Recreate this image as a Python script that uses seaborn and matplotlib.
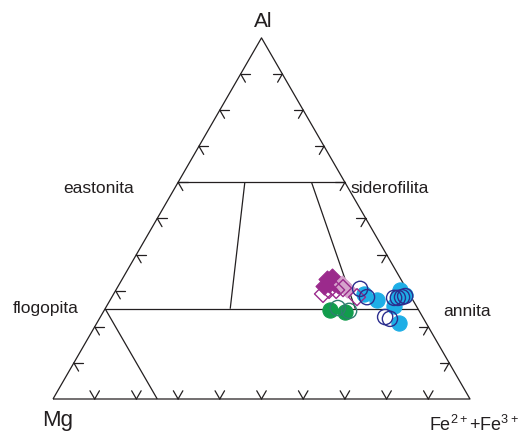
import numpy as np
import pandas as pd
import matplotlib
matplotlib.use("Agg")
import matplotlib.pyplot as plt
import seaborn as sns

sns.set_theme(style="white")
plt.rcParams["font.family"] = ["Liberation Sans", "DejaVu Sans"]
plt.rcParams["mathtext.fontset"] = "custom"
plt.rcParams["mathtext.rm"] = "Liberation Sans"
plt.rcParams["mathtext.it"] = "Liberation Sans"

# Biotite compositions (mol %): Al, Fe(2+ + 3+), Mg
purple_fill_al = [33.2, 33.8, 32.1, 31.6, 31.8, 31.3]
purple_fill_fe = [49.1, 50.0, 51.4, 52.5, 50.3, 49.4]

purple_open_al = [29.1, 30.2, 30.2, 30.7, 28.2]
purple_open_fe = [50.2, 51.1, 52.8, 54.2, 58.8]

pink_fill_al = [31.8, 30.5]
pink_fill_fe = [53.4, 55.3]

green_fill_al = [24.6, 24.1]
green_fill_fe = [54.1, 58.0]

green_open_al = [25.2, 24.4]
green_open_fe = [55.7, 58.8]

blue_fill_al = [29.1, 27.4, 30.2, 28.8, 25.8, 21.0, 28.5]
blue_fill_fe = [60.1, 64.0, 68.1, 70.0, 68.9, 72.5, 68.5]

navy_open_al = [30.5, 28.2, 28.0, 28.0, 28.2, 28.5, 22.7, 22.2]
navy_open_fe = [58.4, 61.2, 67.8, 68.7, 69.6, 70.2, 68.3, 69.7]

# Field boundaries of the biotite classification
al_upper = 0.60        # eastonita - siderofilita
al_lower = 0.25        # flogopita - annita
fe_ratios = [0.40, 0.80]  # Fe/(Fe+Mg) dividers between the two Al lines
mg_line = 0.75         # divider near the Mg corner

H = np.sqrt(3) / 2


def project(al, fe):
    al = np.asarray(al, dtype=float)
    fe = np.asarray(fe, dtype=float)
    return fe + al / 2, al * H


def group_frame(name, al, fe):
    x, y = project(np.array(al) / 100, np.array(fe) / 100)
    return pd.DataFrame({"grupo": name, "x": x, "y": y})


fig = plt.figure(figsize=(5.18, 4.37), dpi=100)
ax = fig.add_axes([0, 0, 1, 1])
ax.set_xlim(-53 / 417, 465 / 417)
ax.set_ylim(-38 / 417, 399 / 417)
ax.set_aspect("equal")
ax.axis("off")

line_kw = dict(color="#231f20", lw=0.9, solid_capstyle="butt", zorder=1)

# Outer triangle
tx, ty = project([0, 0, 1, 0], [0, 1, 0, 0])
ax.plot(tx, ty, **line_kw)

# Horizontal Al lines
for a in (al_upper, al_lower):
    lx, ly = project([a, a], [0, 1 - a])
    ax.plot(lx, ly, **line_kw)

# Fe/(Fe+Mg) dividers
for r in fe_ratios:
    lx, ly = project([al_upper, al_lower],
                     [r * (1 - al_upper), r * (1 - al_lower)])
    ax.plot(lx, ly, **line_kw)

# Constant-Mg divider
lx, ly = project([1 - mg_line, 0], [0, 1 - mg_line])
ax.plot(lx, ly, **line_kw)

# Chevron ticks every 10 %
L = 9.5 / 417
tick_kw = dict(color="#231f20", lw=0.9, zorder=1)
for i in range(1, 10):
    t = i / 10
    # bottom edge (Mg - Fe)
    px, py = project(0, t)
    for dx in (-0.5, 0.5):
        ax.plot([px, px + dx * L], [py, py + H * L], **tick_kw)
    # left edge (Mg - Al)
    px, py = project(t, 0)
    ax.plot([px, px + L], [py, py], **tick_kw)
    ax.plot([px, px + 0.5 * L], [py, py - H * L], **tick_kw)
    # right edge (Al - Fe)
    px, py = project(t, 1 - t)
    ax.plot([px, px - L], [py, py], **tick_kw)
    ax.plot([px, px - 0.5 * L], [py, py - H * L], **tick_kw)

# Sample points
s_circ = 120
s_diam = 75
sns.scatterplot(data=group_frame("pf", purple_fill_al, purple_fill_fe), x="x", y="y",
                marker="D", s=s_diam, color="#9b2a8c", edgecolor="#9b2a8c",
                linewidth=0.8, ax=ax, zorder=3, legend=False)
sns.scatterplot(data=group_frame("pk", pink_fill_al, pink_fill_fe), x="x", y="y",
                marker="D", s=s_diam, color="#d6a3cc", edgecolor="#d6a3cc",
                linewidth=0.8, ax=ax, zorder=3, legend=False)
sns.scatterplot(data=group_frame("po", purple_open_al, purple_open_fe), x="x", y="y",
                marker="D", s=s_diam, facecolor="none", edgecolor="#9b2a8c",
                linewidth=1.0, ax=ax, zorder=4, legend=False)
sns.scatterplot(data=group_frame("gf", green_fill_al, green_fill_fe), x="x", y="y",
                marker="o", s=s_circ, color="#119c4c", edgecolor="#119c4c",
                linewidth=0.8, ax=ax, zorder=3, legend=False)
sns.scatterplot(data=group_frame("go", green_open_al, green_open_fe), x="x", y="y",
                marker="o", s=s_circ, facecolor="none", edgecolor="#2f7d70",
                linewidth=1.0, ax=ax, zorder=4, legend=False)
sns.scatterplot(data=group_frame("bf", blue_fill_al, blue_fill_fe), x="x", y="y",
                marker="o", s=s_circ, color="#1eaee6", edgecolor="#1eaee6",
                linewidth=0.8, ax=ax, zorder=3, legend=False)
sns.scatterplot(data=group_frame("no", navy_open_al, navy_open_fe), x="x", y="y",
                marker="o", s=s_circ, facecolor="none", edgecolor="#2c2e8e",
                linewidth=1.0, ax=ax, zorder=4, legend=False)

txt = "#231f20"
ax.text(0.5036, 0.892, "Al", fontsize=15, ha="center", va="baseline", color=txt)
ax.text(-0.0264, -0.0647, "Mg", fontsize=16, ha="left", va="baseline", color=txt)
ax.text(0.9017, -0.0767, r"Fe$^{\mathrm{2+}}$+Fe$^{\mathrm{3+}}$", fontsize=13,
        ha="left", va="baseline", color=txt)
ax.text(0.024, 0.494, "eastonita", fontsize=12.5, ha="left", va="baseline", color=txt)
ax.text(0.713, 0.494, "siderofilita", fontsize=12.5, ha="left", va="baseline", color=txt)
ax.text(-0.097, 0.206, "flogopita", fontsize=12.5, ha="left", va="baseline", color=txt)
ax.text(0.935, 0.199, "annita", fontsize=12.5, ha="left", va="baseline", color=txt)

fig.savefig("out.png", dpi=100, facecolor="white")
